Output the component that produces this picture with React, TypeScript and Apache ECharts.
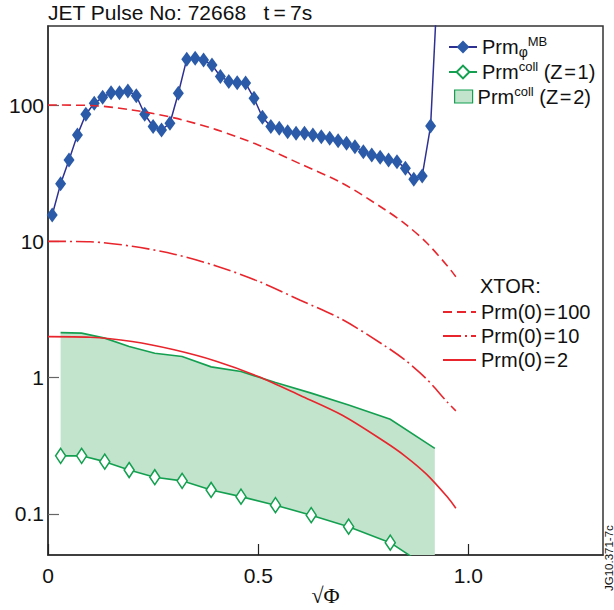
import React, { useEffect, useRef } from 'react';
import * as echarts from 'echarts';

const FONT = '"Liberation Sans", Arial, Helvetica, sans-serif';
const RED = '#e8252c';
const GREEN = '#14a050';
const FILL = '#c2e3cc';
const BLUE = '#2b5ba8';
const NAVY = '#2e3192';

// Measured Prm_phi^MB profile on the sqrt(Phi) grid
const mbRho = [
  0.01, 0.03, 0.05, 0.07, 0.09, 0.11, 0.13, 0.15, 0.17, 0.19,
  0.21, 0.23, 0.25, 0.27, 0.29, 0.31, 0.33, 0.35, 0.37, 0.39,
  0.41, 0.43, 0.45, 0.47, 0.49, 0.51, 0.53, 0.55, 0.57, 0.59,
  0.61, 0.63, 0.65, 0.67, 0.69, 0.71, 0.73, 0.75, 0.77, 0.79,
  0.81, 0.83, 0.85, 0.87, 0.89, 0.91, 0.93,
];
const mbPrm = [
  15.6, 26.4, 39.5, 60.4, 85.6, 103, 114, 123, 123, 127,
  117, 85.6, 69.5, 65.7, 73.5, 122, 217, 220, 214, 197,
  162, 149, 146, 145, 112, 81.4, 69.5, 67.6, 63.8, 62.1,
  62.1, 60.4, 58.6, 57.1, 54.8, 52.5, 49.5, 45.5, 43.0, 41.4,
  39.5, 38.4, 34.4, 28.6, 30.2, 70.3, 1300,
];

// Collisional Prandtl number estimates
const collRho = [0.03, 0.08, 0.135, 0.193, 0.254, 0.319, 0.388, 0.459, 0.541, 0.626, 0.715, 0.814, 0.92];
const collZ1 = [0.267, 0.267, 0.242, 0.21, 0.186, 0.175, 0.15, 0.134, 0.116, 0.098, 0.0807, 0.0616, 0.0375];
const collZ2 = [2.14, 2.12, 1.95, 1.69, 1.51, 1.43, 1.2, 1.11, 0.92, 0.77, 0.63, 0.495, 0.303];

// XTOR runs
const xtorRho = [0, 0.1, 0.2, 0.3, 0.4, 0.5, 0.6, 0.7, 0.8, 0.85, 0.9, 0.95, 0.97];
const xtor100 = [100, 99.3, 92, 80.5, 66, 51, 37, 26.7, 17.2, 13.4, 9.8, 6.6, 5.5];
const xtor10 = [10, 9.93, 9.2, 8.05, 6.6, 5.1, 3.7, 2.67, 1.72, 1.34, 0.98, 0.66, 0.57];
const xtor2 = [2.0, 1.98, 1.84, 1.6, 1.32, 1.02, 0.74, 0.53, 0.34, 0.265, 0.196, 0.133, 0.11];

const xTickLabels: Record<string, string> = { '0': '0', '0.5': '0.5', '1': '1.0' };

const pairs = (xs: number[], ys: number[]) => xs.map((x, i) => [x, ys[i]]);

const HS = '\u200a';
const NAME_MB = 'Prm phi MB';
const NAME_Z1 = 'Prm coll (Z=1)';
const NAME_Z2 = 'Prm coll (Z=2)';
const NAME_X100 = `Prm(0)${HS}=${HS}100`;
const NAME_X10 = `Prm(0)${HS}=${HS}10`;
const NAME_X2 = `Prm(0)${HS}=${HS}2`;

const richText = {
  m: { fontSize: 20, lineHeight: 24, fontFamily: FONT, color: '#111' },
  sub: { fontSize: 14, lineHeight: 14, verticalAlign: 'bottom', fontFamily: FONT, color: '#111' },
  sup: { fontSize: 13, lineHeight: 14, verticalAlign: 'top', fontFamily: FONT, color: '#111' },
};

const legendLabel = (name: string) => {
  if (name === NAME_MB) return '{m|Prm}{sub|\u03c6}{sup|MB}';
  if (name === NAME_Z1) return `{m|Prm}{sup|coll}{m| (Z${HS}=${HS}1)}`;
  if (name === NAME_Z2) return `{m|Prm}{sup|coll}{m| (Z${HS}=${HS}2)}`;
  return name;
};

export default function App() {
  const ref = useRef<HTMLDivElement>(null);

  useEffect(() => {
    if (!ref.current) return;
    const chart = echarts.init(ref.current, undefined, { renderer: 'svg', width: 614, height: 610 });

    const topLegend = {
      orient: 'vertical',
      padding: 0,
      itemGap: 0,
      selectedMode: false,
      itemWidth: 28,
      itemHeight: 16,
      formatter: legendLabel,
      textStyle: { fontFamily: FONT, fontSize: 20, color: '#111', rich: richText },
    };
    const xtorLegend = {
      orient: 'vertical',
      padding: 0,
      itemGap: 0,
      selectedMode: false,
      itemWidth: 33,
      itemHeight: 10,
      itemStyle: { color: 'rgba(0,0,0,0)', borderColor: 'rgba(0,0,0,0)', borderWidth: 0, opacity: 0 },
      textStyle: { fontFamily: FONT, fontSize: 20, lineHeight: 24, color: '#111' },
    };

    chart.setOption({
      animation: false,
      title: [
        {
          text: 'JET Pulse No: 72668   t\u2009=\u20097s',
          left: 48,
          top: 0,
          padding: 0,
          textStyle: { fontFamily: FONT, fontSize: 21, fontWeight: 'normal', color: '#111', lineHeight: 24 },
        },
        {
          text: 'XTOR:',
          left: 480,
          top: 274,
          padding: 0,
          textStyle: { fontFamily: FONT, fontSize: 20, fontWeight: 'normal', color: '#111', lineHeight: 24 },
        },
      ],
      legend: [
        { ...topLegend, left: 448, top: 35, data: [NAME_MB] },
        { ...topLegend, left: 448, top: 60, data: [NAME_Z1] },
        {
          ...topLegend,
          left: 454,
          top: 84.5,
          itemWidth: 18,
          itemHeight: 13,
          data: [{ name: NAME_Z2, icon: 'rect', itemStyle: { color: FILL, borderColor: GREEN, borderWidth: 1.2 } }],
        },
        { ...xtorLegend, left: 442, top: 300, data: [NAME_X100] },
        { ...xtorLegend, left: 442, top: 324, data: [NAME_X10] },
        { ...xtorLegend, left: 442, top: 348, data: [NAME_X2] },
      ],
      grid: {
        left: 48,
        right: 11,
        top: 26,
        bottom: 55,
        containLabel: false,
        outerBoundsMode: 'none',
        show: true,
        borderColor: '#333',
        borderWidth: 1.5,
        backgroundColor: 'transparent',
      },
      xAxis: {
        type: 'value',
        min: 0,
        max: 1.32,
        interval: 0.5,
        name: '\u221a\u03a6',
        nameLocation: 'middle',
        nameGap: 29,
        nameMoveOverlap: false,
        nameTextStyle: {
          fontFamily: '"Liberation Serif", "DejaVu Serif", serif',
          fontSize: 22,
          lineHeight: 22,
          color: '#111',
        },
        axisLine: { lineStyle: { color: '#333', width: 1.5 } },
        axisTick: { inside: true, length: 11, lineStyle: { color: '#222', width: 1.2 } },
        axisLabel: {
          margin: 10,
          showMaxLabel: false,
          fontFamily: FONT,
          fontSize: 21,
          color: '#111',
          formatter: (v: number) => xTickLabels[String(v)] ?? '',
        },
        splitLine: { show: false },
      },
      yAxis: {
        type: 'log',
        logBase: 10,
        min: 0.05,
        max: 380,
        axisLine: { lineStyle: { color: '#333', width: 1.5 } },
        axisTick: { inside: true, length: 11, lineStyle: { color: '#666', width: 1.2 } },
        axisLabel: {
          margin: 4,
          showMinLabel: false,
          showMaxLabel: false,
          fontFamily: FONT,
          fontSize: 21,
          color: '#111',
          formatter: (v: number) => {
            const r = Math.round(Math.log10(v));
            if (Math.abs(Math.log10(v) - r) > 1e-6) return '';
            return r < 0 ? '0.1' : String(Math.pow(10, r));
          },
        },
        splitLine: { show: false },
        minorTick: { show: false },
      },
      series: [
        {
          name: NAME_Z2,
          type: 'custom',
          clip: true,
          z: 1,
          data: [[0.5, 1]],
          itemStyle: { color: FILL, borderColor: GREEN },
          renderItem: (_params: any, api: any) => {
            const upper = collRho.map((r, i) => api.coord([r, collZ2[i]]));
            const lower = collRho.map((r, i) => api.coord([r, collZ1[i]])).reverse();
            return {
              type: 'group',
              children: [
                { type: 'polygon', shape: { points: upper.concat(lower) }, style: { fill: FILL, stroke: 'none' } },
                { type: 'polyline', shape: { points: upper }, style: { stroke: GREEN, lineWidth: 1.6, fill: 'none' } },
              ],
            };
          },
        },
        {
          name: NAME_MB,
          type: 'line',
          z: 2,
          data: pairs(mbRho, mbPrm),
          symbol: 'diamond',
          symbolSize: [11, 15],
          clip: true,
          itemStyle: { color: BLUE },
          lineStyle: { color: NAVY, width: 1.5 },
        },
        {
          name: NAME_X100,
          type: 'line',
          z: 3,
          data: pairs(xtorRho, xtor100),
          showSymbol: false,
          symbol: 'none',
          smooth: 0.3,
          itemStyle: { color: RED },
          lineStyle: { color: RED, width: 1.6, type: [9, 5] },
        },
        {
          name: NAME_X10,
          type: 'line',
          z: 3,
          data: pairs(xtorRho, xtor10),
          showSymbol: false,
          symbol: 'none',
          smooth: 0.3,
          itemStyle: { color: RED },
          lineStyle: { color: RED, width: 1.6, type: [18, 4, 2, 4] },
        },
        {
          name: NAME_X2,
          type: 'line',
          z: 3,
          data: pairs(xtorRho, xtor2),
          showSymbol: false,
          symbol: 'none',
          smooth: 0.3,
          itemStyle: { color: RED },
          lineStyle: { color: RED, width: 1.6 },
        },
        {
          name: NAME_Z1,
          type: 'line',
          z: 4,
          data: pairs(collRho, collZ1),
          symbol: 'diamond',
          symbolSize: [10, 15],
          clip: true,
          itemStyle: { color: '#fff', borderColor: GREEN, borderWidth: 1.6 },
          lineStyle: { color: GREEN, width: 1.6 },
        },
      ],
      graphic: [
        {
          type: 'text',
          x: 609,
          y: 591,
          rotation: Math.PI / 2,
          style: {
            text: 'JG10.371-7c',
            fontFamily: FONT,
            fontSize: 11.5,
            fill: '#111',
            align: 'left',
            verticalAlign: 'middle',
          },
        },
      ],
    });

    return () => chart.dispose();
  }, []);

  return <div ref={ref} style={{ position: 'absolute', left: 0, top: 0, width: 614, height: 610 }} />;
}
